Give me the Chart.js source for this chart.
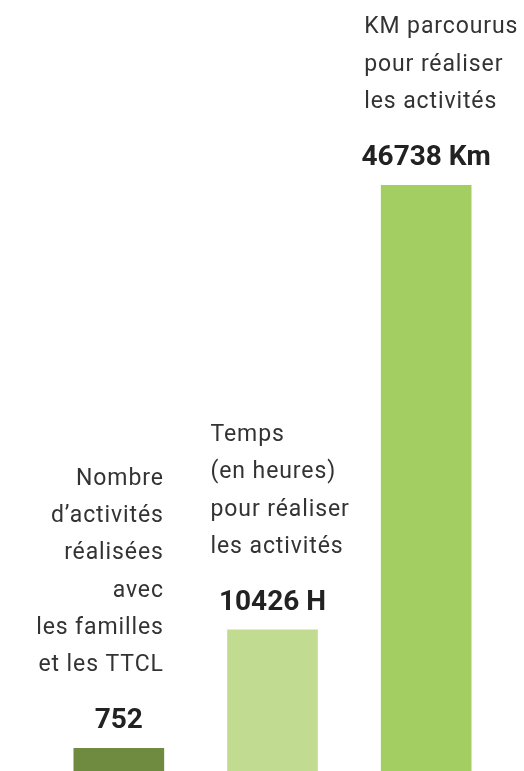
<!DOCTYPE html>
<html><head><meta charset="utf-8">
<script src="https://cdn.jsdelivr.net/npm/chart.js@4/dist/chart.umd.min.js"></script>
<style>html,body{margin:0;padding:0;background:#fff}#wrap{width:524px;height:771px;position:relative}</style>
</head><body><div id="wrap"><canvas id="c"></canvas></div>
<script>
const categories = [
  ["Nombre", "d\u2019activités", "réalisées", "avec", "les familles", "et les TTCL"],
  ["Temps", "(en heures)", "pour réaliser", "les activités"],
  ["KM parcourus", "pour réaliser", "les activités"]
];
const values = [752, 10426, 46738];
const valueLabels = ["752", "10426 H", "46738 Km"];
const barColors = ["#6f8b3f", "#c1dc91", "#a3ce62"];
const labelAlign = ["right", "left", "left"];
const axisFloor = -1100;

const labelPlugin = {
  id: 'labels',
  afterDatasetsDraw(chart) {
    const ctx = chart.ctx;
    const meta = chart.getDatasetMeta(0);
    meta.data.forEach((bar, i) => {
      const x = bar.x, top = bar.y, w = bar.width;
      ctx.save();
      ctx.fillStyle = '#222';
      ctx.font = 'bold 28px Roboto';
      ctx.textAlign = 'center';
      ctx.textBaseline = 'alphabetic';
      const vb = top - 20;
      ctx.fillText(valueLabels[i], x, vb);
      ctx.font = '23px Roboto';
      ctx.letterSpacing = '0.9px';
      ctx.fillStyle = '#333';
      const lines = categories[i];
      const lh = 37.3;
      const last = vb - 57;
      let lx;
      if (labelAlign[i] === 'right') { ctx.textAlign = 'right'; lx = x + w / 2 + 0; }
      else { ctx.textAlign = 'left'; lx = x - w / 2 - 17; }
      lines.forEach((t, j) => {
        ctx.fillText(t, lx, last - (lines.length - 1 - j) * lh);
      });
      ctx.restore();
    });
  }
};

new Chart(document.getElementById('c'), {
  type: 'bar',
  data: {
    labels: categories.map(c => c.join(' ')),
    datasets: [{
      data: values,
      backgroundColor: barColors,
      base: axisFloor,
      barThickness: 90,
      borderWidth: 0
    }]
  },
  options: {
    responsive: true,
    maintainAspectRatio: false,
    animation: false,
    layout: { padding: { top: 185, bottom: 0, left: 42, right: 21 } },
    plugins: { legend: { display: false }, tooltip: { enabled: false } },
    scales: {
      x: { display: false, offset: true },
      y: { display: false, min: axisFloor, max: 46738 }
    }
  },
  plugins: [labelPlugin]
});
</script>
</body></html>
